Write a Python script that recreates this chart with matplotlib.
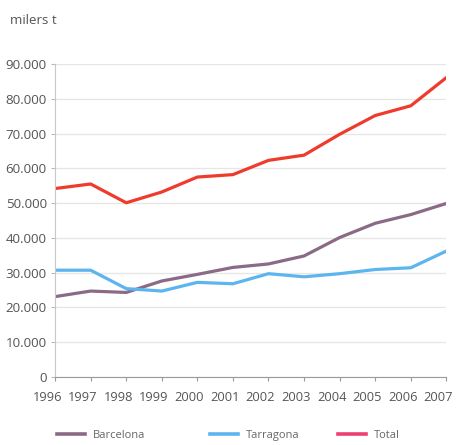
import matplotlib
matplotlib.use("Agg")
import matplotlib.pyplot as plt
from matplotlib.ticker import FuncFormatter
from matplotlib.lines import Line2D
from matplotlib.transforms import ScaledTranslation

years = [1996, 1997, 1998, 1999, 2000, 2001, 2002, 2003, 2004, 2005, 2006, 2007]
barcelona = [23100, 24700, 24300, 27600, 29500, 31500, 32500, 34800, 40100, 44200, 46700, 49900]
tarragona = [30700, 30700, 25400, 24700, 27200, 26800, 29700, 28800, 29700, 30900, 31400, 36200]
total = [54200, 55500, 50100, 53200, 57500, 58200, 62300, 63800, 69800, 75200, 78000, 86100]
yticks = [0, 10000, 20000, 30000, 40000, 50000, 60000, 70000, 80000, 90000]
series_names = ['Barcelona', 'Tarragona', 'Total']

plt.rcParams['font.family'] = ['Open Sans', 'DejaVu Sans']

fig = plt.figure(figsize=(4.63, 4.45), dpi=100)
ax = fig.add_axes([0.119, 0.153, 0.845, 0.703])

c_bcn = '#8b6a86'
c_tar = '#5db5ef'
c_tot = '#ef3b2c'
c_tot_leg = '#ee3f72'

ax.plot(years, barcelona, color=c_bcn, lw=2.3, solid_joinstyle='round')
ax.plot(years, tarragona, color=c_tar, lw=2.3, solid_joinstyle='round')
ax.plot(years, total, color=c_tot, lw=2.3, solid_joinstyle='round')

ax.set_xlim(1996, 2007)
ax.set_ylim(0, 90000)
ax.set_yticks(yticks)
ax.yaxis.set_major_formatter(FuncFormatter(lambda v, p: '0' if v == 0 else f"{int(v):,}".replace(',', '.')))
ax.set_xticks(years)
ax.set_xticklabels([str(y) for y in years])

ax.grid(axis='y', color='#e6e6e6', lw=0.9)
ax.set_axisbelow(True)
for s in ['top', 'right']:
    ax.spines[s].set_visible(False)
ax.spines['left'].set_color('#c8c8c8')
ax.spines['bottom'].set_color('#9a9a9a')
ax.tick_params(axis='y', colors='#bbbbbb', labelcolor='#555555', labelsize=9.6, length=3, pad=3)
ax.tick_params(axis='x', colors='#9a9a9a', labelcolor='#555555', labelsize=9.3, length=3, pad=7)

shift = ScaledTranslation(-8 / 100, 0, fig.dpi_scale_trans)
for lab in ax.get_xticklabels():
    lab.set_transform(lab.get_transform() + shift)

fig.text(0.021, 0.953, 'milers t', fontsize=9.6, color='#555555', va='center', ha='left')

leg_colors = [c_bcn, c_tar, c_tot_leg]
leg_x = [57, 210, 338]
for name, col, x in zip(series_names, leg_colors, leg_x):
    h = Line2D([], [], color=col, lw=2.6)
    lg = fig.legend([h], [name], loc='center left', bbox_to_anchor=(x / 463, 0.021),
                    frameon=False, fontsize=8, handlelength=2.5, handletextpad=0.75,
                    borderpad=0, borderaxespad=0)
    for t in lg.get_texts():
        t.set_color('#666666')

fig.savefig('out.png', dpi=100)
